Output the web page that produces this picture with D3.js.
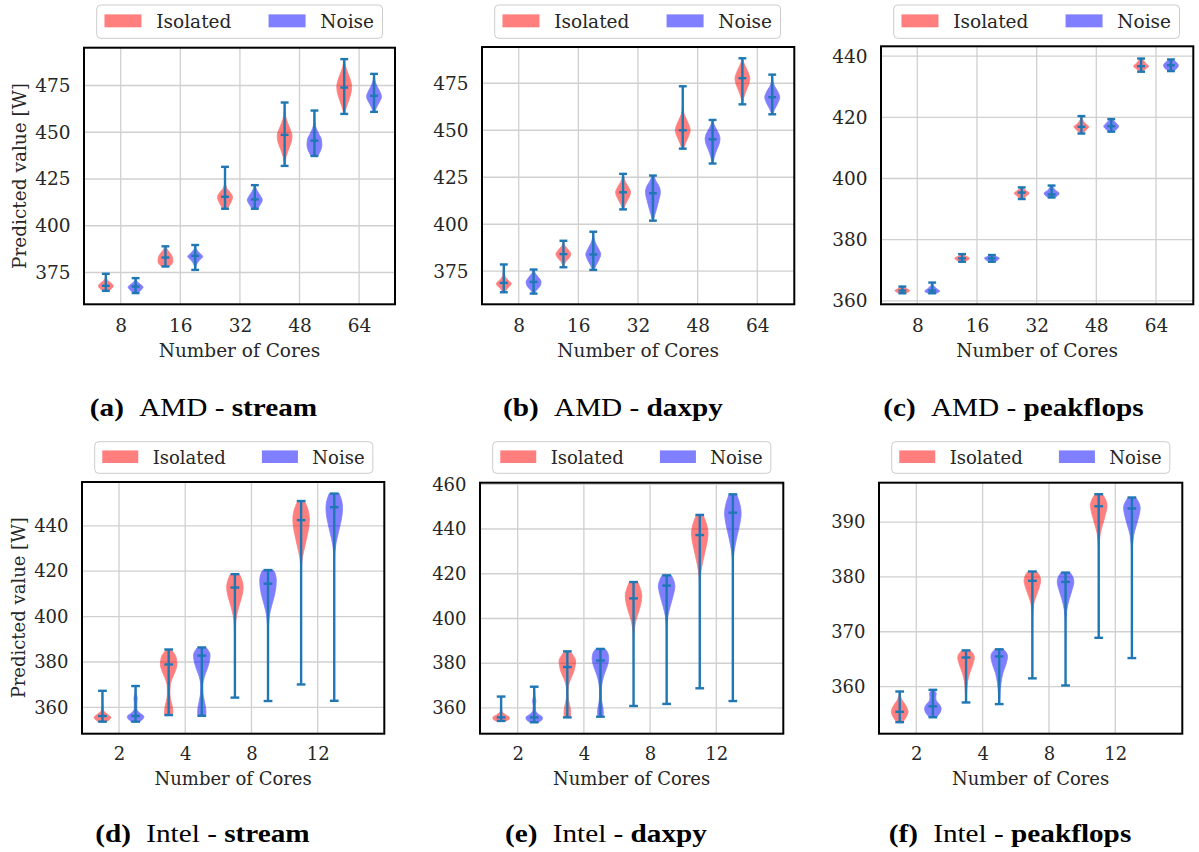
<!DOCTYPE html>
<html>
<head>
<meta charset="utf-8">
<script src="https://cdn.jsdelivr.net/npm/d3@7"></script>
<style>
  body { margin: 0; background: #ffffff; }
  svg { display: block; }
</style>
</head>
<body>
<svg id="fig" width="1199" height="852"></svg>
<script>
// ---------- categories ----------
const coresAMD = ["8", "16", "32", "48", "64"];
const coresIntel = ["2", "4", "8", "12"];
const seriesNames = ["Isolated", "Noise"];

// ---------- y tick labels ----------
const ticksAmdStream = [375, 400, 425, 450, 475];
const ticksAmdDaxpy = [375, 400, 425, 450, 475];
const ticksAmdPeak = [360, 380, 400, 420, 440];
const ticksIntelStream = [360, 380, 400, 420, 440];
const ticksIntelDaxpy = [360, 380, 400, 420, 440, 460];
const ticksIntelPeak = [360, 370, 380, 390];

// ---------- violins: extrema, centre bar and density profile [value, relative density] ----------
const amdStreamIsolated = [
  { min: 365.2, mid: 367.9, max: 374.3, kde: [[365.2,.35],[366.3,.75],[367.9,1],[369.5,.65],[371,.2],[372.5,.05],[374.3,.02]] },
  { min: 378.2, mid: 383.0, max: 389.0, kde: [[378.2,.5],[379.5,.85],[381,1],[383,.95],[385,.7],[387,.3],[389,.05]] },
  { min: 409.1, mid: 415.5, max: 431.5, kde: [[409.1,.3],[411.5,.65],[414,.95],[415.5,1],[417.5,.75],[420,.25],[423,.05],[431.5,.01]] },
  { min: 432.0, mid: 448.6, max: 465.9, kde: [[432,.03],[437,.2],[441,.55],[445,.9],[448,1],[451,.8],[455,.4],[459,.12],[465.9,.02]] },
  { min: 459.8, mid: 473.9, max: 489.1, kde: [[459.8,.05],[463,.25],[467,.6],[471,.9],[474,1],[477,.9],[481,.55],[485,.2],[489.1,.03]] }
];
const amdStreamNoise = [
  { min: 364.0, mid: 367.5, max: 372.0, kde: [[364,.3],[365.5,.7],[367.2,1],[368.8,.6],[370.2,.2],[372,.03]] },
  { min: 376.4, mid: 383.9, max: 389.7, kde: [[376.4,.03],[379,.15],[381.5,.55],[383.5,1],[385.5,.55],[387.5,.15],[389.7,.03]] },
  { min: 409.1, mid: 414.1, max: 421.7, kde: [[409.1,.35],[411.5,.75],[413.8,1],[416,.75],[418.5,.35],[420.5,.12],[421.7,.05]] },
  { min: 437.3, mid: 445.5, max: 461.6, kde: [[437.3,.45],[440,.8],[443,1],[446,.95],[449,.6],[452,.25],[455,.08],[461.6,.02]] },
  { min: 460.9, mid: 469.5, max: 481.2, kde: [[460.9,.1],[463,.3],[466,.7],[469,1],[472,.75],[475,.35],[478,.1],[481.2,.02]] }
];

const amdDaxpyIsolated = [
  { min: 363.8, mid: 368.8, max: 378.6, kde: [[363.8,.1],[366,.5],[368.4,1],[370.5,.5],[373,.12],[378.6,.02]] },
  { min: 377.1, mid: 384.1, max: 391.2, kde: [[377.1,.03],[380,.3],[382,.75],[384.1,1],[386.2,.7],[388.5,.2],[391.2,.02]] },
  { min: 407.9, mid: 417.0, max: 426.8, kde: [[407.9,.05],[410.5,.3],[413.5,.7],[417,1],[420,.7],[423,.25],[426.8,.03]] },
  { min: 440.2, mid: 450.0, max: 473.4, kde: [[440.2,.1],[443,.35],[446.5,.75],[450,1],[453.5,.75],[457,.35],[460,.1],[465,.02],[473.4,.01]] },
  { min: 463.8, mid: 477.7, max: 488.3, kde: [[463.8,.03],[467,.15],[471,.5],[474.5,.85],[477.5,1],[480.5,.8],[484,.4],[487,.1],[488.3,.05]] }
];
const amdDaxpyNoise = [
  { min: 363.1, mid: 369.3, max: 375.9, kde: [[363.1,.1],[365,.4],[367,.85],[369.3,1],[371.5,.7],[374,.2],[375.9,.05]] },
  { min: 375.7, mid: 383.9, max: 396.0, kde: [[375.7,.1],[378,.35],[381,.75],[384,1],[387,.7],[390,.3],[393,.08],[396,.02]] },
  { min: 401.9, mid: 416.5, max: 425.9, kde: [[401.9,.05],[405,.25],[409,.55],[413,.8],[417,1],[420,.85],[423,.4],[425.9,.1]] },
  { min: 432.3, mid: 445.2, max: 455.5, kde: [[432.3,.05],[436,.25],[440,.6],[443,.9],[445.5,1],[448,.85],[451,.45],[453.5,.15],[455.5,.05]] },
  { min: 458.5, mid: 467.6, max: 479.6, kde: [[458.5,.05],[461,.3],[464,.7],[467.5,1],[470.5,.75],[473.5,.3],[476,.1],[479.6,.02]] }
];

const amdPeakIsolated = [
  { min: 362.5, mid: 363.4, max: 364.7, kde: [[362.5,.4],[363.4,1],[364,.6],[364.7,.2]] },
  { min: 372.8, mid: 373.9, max: 375.3, kde: [[372.8,.3],[373.6,.9],[374,1],[374.6,.5],[375.3,.1]] },
  { min: 393.3, mid: 395.4, max: 397.1, kde: [[393.3,.2],[394.3,.6],[395.2,1],[396.2,.5],[397.1,.1]] },
  { min: 414.7, mid: 416.9, max: 420.4, kde: [[414.7,.15],[416,.7],[416.9,1],[418,.5],[419.3,.15],[420.4,.05]] },
  { min: 434.9, mid: 436.7, max: 439.2, kde: [[434.9,.2],[435.8,.6],[436.7,1],[437.7,.6],[439.2,.1]] }
];
const amdPeakNoise = [
  { min: 362.5, mid: 363.4, max: 366.0, kde: [[362.5,.5],[363.2,1],[364,.6],[365,.2],[366,.05]] },
  { min: 372.8, mid: 373.9, max: 375.0, kde: [[372.8,.4],[373.6,.9],[374,1],[374.5,.6],[375,.15]] },
  { min: 393.8, mid: 394.8, max: 397.7, kde: [[393.8,.4],[394.6,.9],[395.2,1],[396.2,.5],[397.7,.1]] },
  { min: 415.3, mid: 417.1, max: 419.4, kde: [[415.3,.3],[416.3,.8],[417.1,1],[418,.7],[419.4,.15]] },
  { min: 435.1, mid: 437.0, max: 438.9, kde: [[435.1,.3],[436,.8],[437,1],[438,.7],[438.9,.2]] }
];

const intelStreamIsolated = [
  { min: 353.7, mid: 356.2, max: 367.3, kde: [[353.7,.5],[354.8,.9],[355.7,1],[357,.6],[358.5,.15],[361,.05],[367.3,.02]] },
  { min: 356.6, mid: 378.9, max: 385.5, kde: [[356.6,.45],[358.5,.5],[361,.4],[364,.2],[367,.15],[370,.2],[373,.45],[376,.8],[379,1],[382,.9],[384.5,.5],[385.5,.3]] },
  { min: 364.3, mid: 412.8, max: 418.7, kde: [[364.3,0],[390,.02],[398,.1],[402,.3],[406,.6],[410,.9],[413,1],[416,.85],[418.7,.55]] },
  { min: 370.1, mid: 442.5, max: 450.9, kde: [[370.1,0],[420,.02],[426,.15],[431,.45],[436,.75],[440,.95],[443,1],[446,.9],[449,.65],[450.9,.4]] }
];
const intelStreamNoise = [
  { min: 353.7, mid: 356.2, max: 369.4, kde: [[353.7,.5],[355,.9],[356,1],[357.5,.5],[359.5,.15],[362,.15],[364,.2],[366,.08],[369.4,.02]] },
  { min: 356.3, mid: 382.8, max: 386.4, kde: [[356.3,.45],[358,.5],[360,.45],[363,.3],[366,.15],[369,.12],[372,.2],[375,.45],[378,.75],[381,.95],[383,1],[385,.8],[386.4,.5]] },
  { min: 362.8, mid: 414.5, max: 420.5, kde: [[362.8,0],[392,.02],[400,.15],[405,.45],[409,.75],[413,.95],[416,1],[419,.85],[420.5,.6]] },
  { min: 362.9, mid: 448.2, max: 454.2, kde: [[362.9,0],[425,.02],[432,.2],[437,.5],[441,.75],[445,.95],[448,1],[451,.9],[454.2,.6]] }
];

const intelDaxpyIsolated = [
  { min: 354.2, mid: 355.8, max: 365.1, kde: [[354.2,.6],[355,.95],[355.8,1],[357,.5],[358.5,.1],[361,.03],[365.1,.02]] },
  { min: 355.8, mid: 378.3, max: 385.3, kde: [[355.8,.35],[358,.4],[361,.3],[364,.12],[367,.08],[370,.15],[373,.4],[376,.75],[379,.95],[381,1],[383.5,.7],[385.3,.35]] },
  { min: 360.9, mid: 409.0, max: 416.3, kde: [[360.9,0],[390,.02],[396,.12],[400,.35],[404,.7],[408,.95],[410,1],[413,.85],[416.3,.5]] },
  { min: 368.8, mid: 437.3, max: 446.3, kde: [[368.8,0],[415,.02],[421,.15],[426,.4],[431,.7],[435,.92],[438,1],[441,.9],[444,.65],[446.3,.4]] }
];
const intelDaxpyNoise = [
  { min: 353.6, mid: 355.8, max: 369.5, kde: [[353.6,.5],[354.8,.95],[355.8,1],[357.2,.5],[359,.15],[361,.12],[363,.2],[365,.1],[369.5,.02]] },
  { min: 356.1, mid: 381.2, max: 386.4, kde: [[356.1,.3],[358,.35],[361,.25],[364,.12],[367,.1],[370,.15],[373,.3],[376,.55],[379,.85],[382,1],[384.5,.9],[386.4,.55]] },
  { min: 361.8, mid: 414.7, max: 419.3, kde: [[361.8,0],[395,.02],[401,.15],[405,.4],[409,.7],[412,.9],[414.5,1],[417,.85],[419.3,.55]] },
  { min: 363.1, mid: 447.3, max: 455.5, kde: [[363.1,0],[424,.02],[430,.15],[435,.4],[440,.7],[444,.92],[447,1],[451,.85],[455.5,.45]] }
];

const intelPeakIsolated = [
  { min: 353.5, mid: 355.4, max: 359.1, kde: [[353.5,.35],[354.5,.8],[355.4,1],[356.5,.75],[357.5,.3],[358.3,.1],[359.1,.03]] },
  { min: 357.1, mid: 365.3, max: 366.6, kde: [[357.1,.03],[359,.08],[361,.2],[362.5,.45],[364,.8],[365.3,1],[366,.85],[366.6,.5]] },
  { min: 361.5, mid: 379.3, max: 381.0, kde: [[361.5,0],[372,.02],[375,.15],[376.5,.45],[378,.8],[379.3,1],[380.3,.85],[381,.55]] },
  { min: 368.9, mid: 392.9, max: 395.1, kde: [[368.9,0],[385,.02],[388,.2],[390,.55],[392,.9],[393,1],[394.2,.8],[395.1,.45]] }
];
const intelPeakNoise = [
  { min: 354.4, mid: 356.4, max: 359.4, kde: [[354.4,.4],[355.2,.85],[356,1],[356.8,.75],[357.5,.4],[358.1,.35],[358.7,.4],[359.4,.1]] },
  { min: 356.8, mid: 365.5, max: 366.8, kde: [[356.8,.03],[358.5,.08],[360.5,.2],[362.5,.45],[364,.8],[365.5,1],[366.2,.85],[366.8,.5]] },
  { min: 360.2, mid: 379.1, max: 380.8, kde: [[360.2,0],[371,.02],[374,.15],[376,.45],[377.7,.8],[379.1,1],[380.1,.85],[380.8,.55]] },
  { min: 365.2, mid: 392.5, max: 394.5, kde: [[365.2,0],[384,.02],[387.5,.2],[389.5,.55],[391.5,.9],[392.5,1],[393.7,.8],[394.5,.45]] }
];

// ---------- panel layout ----------
const rows = [
  { font: 18.5, xPad: 14.3, xLabelGap: 52.4, legendTop: 5, legendH: 33.3, captionY: 416 },
  { font: 18, xPad: 13.5, xLabelGap: 51.3, legendTop: 441.7, legendH: 31.6, captionY: 841.7 }
];

const panels = [
  { tag: "(a)", vendor: "AMD", bench: "stream", cores: coresAMD, iso: amdStreamIsolated, noise: amdStreamNoise,
    yTicks: ticksAmdStream, yDomain: [358.0, 495.2], xDomain: [-0.616, 4.602],
    box: [84, 395, 47.7, 304.3], row: 0, ylabel: 25.5, capX: 203.5 },
  { tag: "(b)", vendor: "AMD", bench: "daxpy", cores: coresAMD, iso: amdDaxpyIsolated, noise: amdDaxpyNoise,
    yTicks: ticksAmdDaxpy, yDomain: [357.4, 494.3], xDomain: [-0.615, 4.62],
    box: [482, 794.3, 47, 304.3], row: 0, ylabel: null, capX: 613 },
  { tag: "(c)", vendor: "AMD", bench: "peakflops", cores: coresAMD, iso: amdPeakIsolated, noise: amdPeakNoise,
    yTicks: ticksAmdPeak, yDomain: [358.9, 443.2], xDomain: [-0.608, 4.625],
    box: [881, 1193.3, 46.3, 304.3], row: 0, ylabel: null, capX: 1013.5 },
  { tag: "(d)", vendor: "Intel", bench: "stream", cores: coresIntel, iso: intelStreamIsolated, noise: intelStreamNoise,
    yTicks: ticksIntelStream, yDomain: [348.4, 459.3], xDomain: [-0.559, 4.006],
    box: [82, 384.3, 482, 733.7], row: 1, ylabel: 24.5, capX: 202.5 },
  { tag: "(e)", vendor: "Intel", bench: "daxpy", cores: coresIntel, iso: intelDaxpyIsolated, noise: intelDaxpyNoise,
    yTicks: ticksIntelDaxpy, yDomain: [348.5, 460.7], xDomain: [-0.569, 4.012],
    box: [480, 783.3, 482.7, 733.7], row: 1, ylabel: null, capX: 606 },
  { tag: "(f)", vendor: "Intel", bench: "peakflops", cores: coresIntel, iso: intelPeakIsolated, noise: intelPeakNoise,
    yTicks: ticksIntelPeak, yDomain: [351.4, 397.2], xDomain: [-0.562, 4.01],
    box: [879, 1182.3, 482.7, 733.7], row: 1, ylabel: null, capX: 1010 }
];

const TEXT = "#262626";
const LINE = "#1f77b4";
const FILL = ["#ff0000", "#0000ff"];
const SERIF = "'DejaVu Serif', serif";

const svg = d3.select("#fig");

panels.forEach(p => {
  const r = rows[p.row];
  const [x0, x1, y0, y1] = p.box;
  const x = d3.scaleLinear().domain(p.xDomain).range([x0, x1]);
  const y = d3.scaleLinear().domain(p.yDomain).range([y1, y0]);
  const step = x(1) - x(0);
  const g = svg.append("g");

  // grid
  const grid = g.append("g").attr("stroke", "#d0d0d0").attr("stroke-width", 1.3);
  grid.selectAll("line.h").data(p.yTicks).join("line")
    .attr("x1", x0).attr("x2", x1).attr("y1", d => y(d)).attr("y2", d => y(d));
  grid.selectAll("line.v").data(p.cores.map((c, i) => i)).join("line")
    .attr("y1", y0).attr("y2", y1).attr("x1", d => x(d)).attr("x2", d => x(d));

  // violin bodies
  const halfW = step * 0.125;
  [p.iso, p.noise].forEach((series, s) => {
    const off = s === 0 ? -0.25 : 0.25;
    series.forEach((v, i) => {
      const cx = x(i + off);
      const area = d3.area()
        .y(d => y(d[0]))
        .x0(d => cx - d[1] * halfW)
        .x1(d => cx + d[1] * halfW)
        .curve(d3.curveMonotoneY);
      g.append("path").attr("d", area(v.kde))
        .attr("fill", FILL[s]).attr("stroke", FILL[s]).attr("stroke-width", 0.8)
        .attr("opacity", 0.5);
    });
  });
  // extrema bars and centre marks
  [p.iso, p.noise].forEach((series, s) => {
    const off = s === 0 ? -0.25 : 0.25;
    series.forEach((v, i) => {
      const cx = x(i + off);
      const cap = step * 0.066;
      const lg = g.append("g").attr("stroke", LINE).attr("stroke-width", 2.4).attr("fill", "none");
      lg.append("line").attr("x1", cx).attr("x2", cx).attr("y1", y(v.min)).attr("y2", y(v.max));
      [v.min, v.mid, v.max].forEach(val => {
        lg.append("line").attr("x1", cx - cap).attr("x2", cx + cap).attr("y1", y(val)).attr("y2", y(val));
      });
    });
  });

  // frame
  g.append("rect").attr("x", x0).attr("y", y0).attr("width", x1 - x0).attr("height", y1 - y0)
    .attr("fill", "none").attr("stroke", "#000").attr("stroke-width", 2);

  // axes
  const ya = g.append("g").attr("transform", `translate(${x0},0)`)
    .call(d3.axisLeft(y).tickValues(p.yTicks).tickSize(0).tickPadding(13.5));
  const xa = g.append("g").attr("transform", `translate(0,${y1})`)
    .call(d3.axisBottom(x).tickValues(p.cores.map((c, i) => i)).tickFormat(i => p.cores[i]).tickSize(0).tickPadding(r.xPad));
  [ya, xa].forEach(a => {
    a.select(".domain").remove();
    a.attr("font-family", null).attr("font-size", null);
    a.selectAll("text").attr("font-family", SERIF).attr("font-size", r.font).attr("fill", TEXT);
  });

  g.append("text").attr("x", (x0 + x1) / 2).attr("y", y1 + r.xLabelGap)
    .attr("text-anchor", "middle").attr("font-family", SERIF).attr("font-size", r.font).attr("fill", TEXT)
    .text("Number of Cores");
  if (p.ylabel !== null) {
    g.append("text").attr("transform", `translate(${p.ylabel},${(y0 + y1) / 2}) rotate(-90)`)
      .attr("text-anchor", "middle").attr("font-family", SERIF).attr("font-size", r.font).attr("fill", TEXT)
      .text("Predicted value [W]");
  }

  // legend
  const f = r.font;
  const L = x0 + 12.7, T = r.legendTop;
  const lg = g.append("g");
  lg.append("rect").attr("x", L).attr("y", T).attr("width", f * 15.45).attr("height", r.legendH)
    .attr("rx", 4).attr("fill", "#fff").attr("fill-opacity", 0.8).attr("stroke", "#cccccc").attr("stroke-width", 1);
  seriesNames.forEach((n, k) => {
    const px = L + f * 0.42 + k * f * 8.87;
    lg.append("rect").attr("x", px).attr("y", T + r.legendH / 2 - 0.35 * f - 0.8).attr("width", 2 * f).attr("height", 0.7 * f)
      .attr("fill", FILL[k]).attr("opacity", 0.5);
    lg.append("text").attr("x", px + 2.8 * f).attr("y", T + r.legendH / 2 + 0.36 * f)
      .attr("font-family", SERIF).attr("font-size", f).attr("fill", TEXT).text(n);
  });

  // caption
  const cap = svg.append("g").attr("transform", `translate(${p.capX},${r.captionY}) scale(1.17,1)`)
    .append("text").attr("text-anchor", "middle").attr("font-family", "'Liberation Serif', serif")
    .attr("font-size", 25).attr("fill", "#000").style("white-space", "pre");
  cap.append("tspan").attr("font-weight", "bold").text(p.tag);
  cap.append("tspan").attr("dx", 13).text(p.vendor + " - ");
  cap.append("tspan").attr("font-weight", "bold").text(p.bench);
});
</script>
</body>
</html>
